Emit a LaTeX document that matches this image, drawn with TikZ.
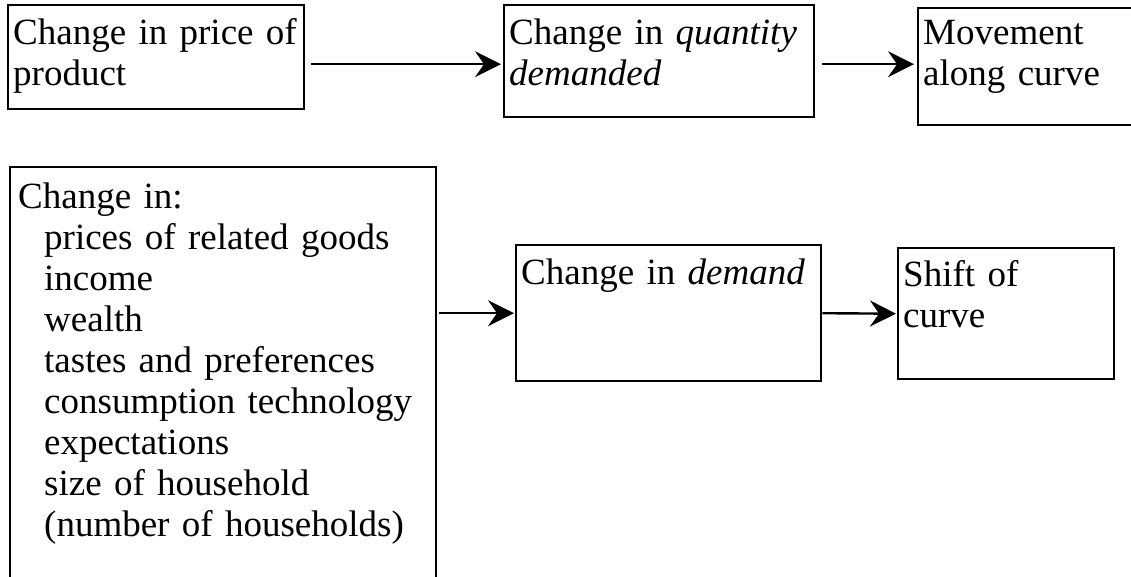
\documentclass[tikz,border=0pt]{standalone}
\usepackage{fontspec}
\setmainfont{Liberation Serif}
\usetikzlibrary{arrows.meta}
\tikzset{
  box/.style={draw, line width=2.4pt, anchor=north west, align=left, inner xsep=5pt, inner ysep=0pt, font=\fontsize{37}{41}\selectfont},
  arr/.style={line width=2.4pt, -{Stealth[length=26pt,width=26pt,inset=9pt]}}
}
\newcommand{\factind}{\hspace*{26pt}}
\begin{document}
\begin{tikzpicture}[x=1pt,y=-1pt]
\useasboundingbox (0,0) rectangle (1131,577);
% top row: price change
\node[box, text width=286pt, text height=39pt, text depth=65pt] (price) at (7,4) {Change in price of\\product};
\node[box, text width=300pt, text height=39pt, text depth=73pt] (qdem) at (503,4) {Change in \emph{quantity}\\\emph{demanded}};
\node[box, text width=213pt, text height=36pt, text depth=81pt] (move) at (917,7) {Movement\\along curve};
% bottom row: other factors
\node[box, inner xsep=8pt, text width=410pt, text height=41pt, text depth=393pt] (factors) at (9,166) {Change in:\\
  \factind prices of related goods\\
  \factind income\\
  \factind wealth\\
  \factind tastes and preferences\\
  \factind consumption technology\\
  \factind expectations\\
  \factind size of household\\
  \factind (number of households)};
\node[box, text width=295pt, text height=39pt, text depth=97pt] (dem) at (515,244) {Change in \emph{demand}};
\node[box, text width=206pt, text height=38pt, text depth=93pt] (shiftbox) at (897,247) {Shift of\\curve};

\draw[arr] ([shift={(6,7)}]price.east) -- ([shift={(-2,3)}]qdem.west);
\draw[arr] ([shift={(7,3)}]qdem.east) -- ([shift={(-3,-2.5)}]move.west);
\draw[arr] ([xshift=2pt]factors.east |- dem.west) -- ([xshift=-1pt]dem.west);
\draw[arr] (dem.east) -- ([xshift=-1pt]shiftbox.west);
\end{tikzpicture}
\end{document}
